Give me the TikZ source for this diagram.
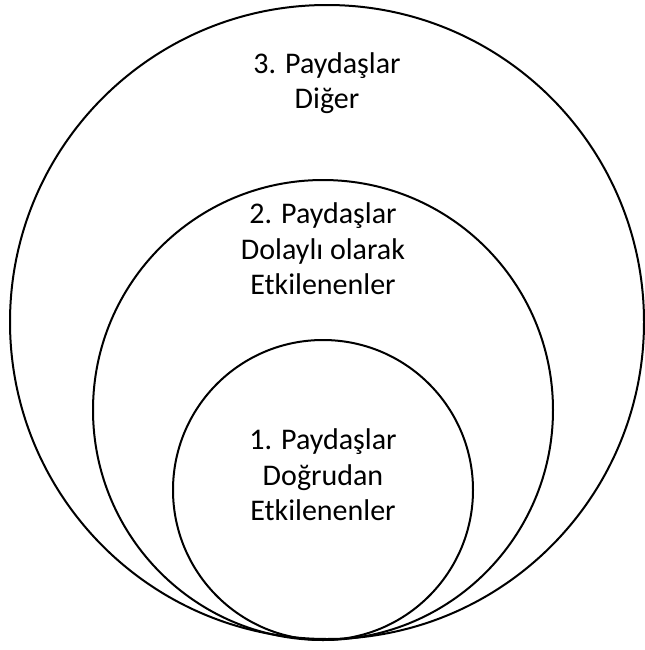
\documentclass[tikz,border=0pt]{standalone}
\usepackage{fontspec}
\setmainfont{Carlito}
\usetikzlibrary{positioning}
\tikzset{
	ring/.style={draw, circle, line width=1.5pt, inner sep=0pt},
	label/.style={align=center, font=\fontsize{22.5}{26.5}\selectfont, inner sep=0pt}
}
\begin{document}
\begin{tikzpicture}[x=0.75pt, y=-0.75pt]
			\useasboundingbox (0,0) rectangle (645,650);
			% three rings touching at the bottom
			\node (outer) [ring, minimum size=634*0.75pt] at (327,322) {};
			\node (middle) [ring, minimum size=460*0.75pt] at (323,410) {};
			\node (inner) [ring, minimum size=300*0.75pt] at (323,490) {};
			
			\node (l3) [label] at (327,83) {3. Paydaşlar\\Diğer};
			\node (l2) [label] at (323,249) {2. Paydaşlar\\Dolaylı olarak\\Etkilenenler};
			\node (l1) [label] at (323,475) {1. Paydaşlar\\Doğrudan\\Etkilenenler};
		\end{tikzpicture}
\end{document}
